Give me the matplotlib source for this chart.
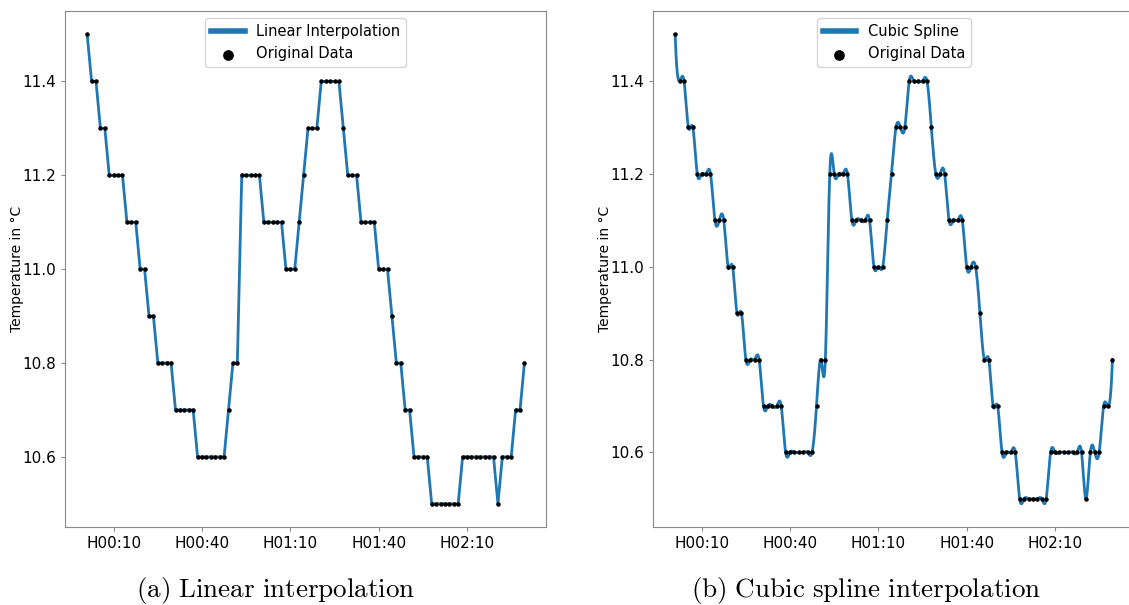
import numpy as np
import matplotlib.pyplot as plt

plt.rcParams['mathtext.fontset'] = 'cm'

# temperature readings, one every 90 s starting at H00:01
temps = [11.5,
         11.4, 11.4,
         11.3, 11.3,
         11.2, 11.2, 11.2, 11.2,
         11.1, 11.1, 11.1,
         11.0, 11.0,
         10.9, 10.9,
         10.8, 10.8, 10.8, 10.8,
         10.7, 10.7, 10.7, 10.7, 10.7,
         10.6, 10.6, 10.6, 10.6, 10.6, 10.6, 10.6,
         10.7,
         10.8, 10.8,
         11.2, 11.2, 11.2, 11.2, 11.2,
         11.1, 11.1, 11.1, 11.1, 11.1,
         11.0, 11.0, 11.0,
         11.1,
         11.2,
         11.3, 11.3, 11.3,
         11.4, 11.4, 11.4, 11.4, 11.4,
         11.3,
         11.2, 11.2, 11.2,
         11.1, 11.1, 11.1, 11.1,
         11.0, 11.0, 11.0,
         10.9,
         10.8, 10.8,
         10.7, 10.7,
         10.6, 10.6, 10.6, 10.6,
         10.5, 10.5, 10.5, 10.5, 10.5, 10.5, 10.5,
         10.6, 10.6, 10.6, 10.6, 10.6, 10.6, 10.6, 10.6,
         10.5,
         10.6, 10.6, 10.6,
         10.7, 10.7,
         10.8]
start_min = 1.0
step_min = 1.5
tick_minutes = [10, 40, 70, 100, 130]
tick_labels = ['H00:10', 'H00:40', 'H01:10', 'H01:40', 'H02:10']
y_ticks = [10.6, 10.8, 11.0, 11.2, 11.4]

y = np.array(temps)
t = start_min + step_min * np.arange(len(y))


def cubic_spline(x, y, xs):
    # not-a-knot cubic spline, solved for the second derivatives
    n = len(x)
    h = np.diff(x)
    A = np.zeros((n, n))
    b = np.zeros(n)
    for i in range(1, n - 1):
        A[i, i - 1] = h[i - 1]
        A[i, i] = 2 * (h[i - 1] + h[i])
        A[i, i + 1] = h[i]
        b[i] = 6 * ((y[i + 1] - y[i]) / h[i] - (y[i] - y[i - 1]) / h[i - 1])
    A[0, 0], A[0, 1], A[0, 2] = h[1], -(h[0] + h[1]), h[0]
    A[-1, -3], A[-1, -2], A[-1, -1] = h[-1], -(h[-2] + h[-1]), h[-2]
    M = np.linalg.solve(A, b)
    k = np.clip(np.searchsorted(x, xs) - 1, 0, n - 2)
    hk = h[k]
    a = x[k + 1] - xs
    c = xs - x[k]
    return (M[k] * a ** 3 / (6 * hk) + M[k + 1] * c ** 3 / (6 * hk)
            + (y[k] / hk - M[k] * hk / 6) * a
            + (y[k + 1] / hk - M[k + 1] * hk / 6) * c)


t_fine = np.linspace(t[0], t[-1], 2000)
y_spline = cubic_spline(t, y, t_fine)

fig = plt.figure(figsize=(11.29, 6.05), dpi=100)
W, H = 1129, 605
ax1 = fig.add_axes([65.3 / W, 1 - 527.3 / H, 481 / W, 516.3 / H])
ax2 = fig.add_axes([653.3 / W, 1 - 527.3 / H, 481 / W, 516.3 / H])

ax1.plot(t, y, color='#1f77b4', lw=2, label='Linear Interpolation')
ax2.plot(t_fine, y_spline, color='#1f77b4', lw=2, label='Cubic Spline')

for ax in (ax1, ax2):
    ax.scatter(t, y, s=5, color='black', zorder=3, label='Original Data')
    ax.set_xticks(tick_minutes)
    ax.set_xticklabels(tick_labels)
    ax.set_yticks(y_ticks)
    ax.set_yticklabels([f'{v:.1f}' for v in y_ticks])
    ax.tick_params(labelsize=11, color='#888888', length=3)
    for sp in ax.spines.values():
        sp.set_color('#888888')
    ax.set_ylabel('Temperature in °C', fontsize=10)
    ax.yaxis.set_label_coords(-41 / 481, 0.5)
    leg = ax.legend(loc='upper center', fontsize=10.5, handlelength=2.3,
                    markerscale=3)
    for line in leg.get_lines():
        line.set_linewidth(4)

fig.text(276 / W, 1 - 590 / H, r'$\mathrm{(a)\ Linear\ interpolation}$',
         fontsize=19.5, ha='center', va='center')
fig.text(866 / W, 1 - 590 / H, r'$\mathrm{(b)\ Cubic\ spline\ interpolation}$',
         fontsize=19.5, ha='center', va='center')

fig.savefig('out.png', dpi=100)
